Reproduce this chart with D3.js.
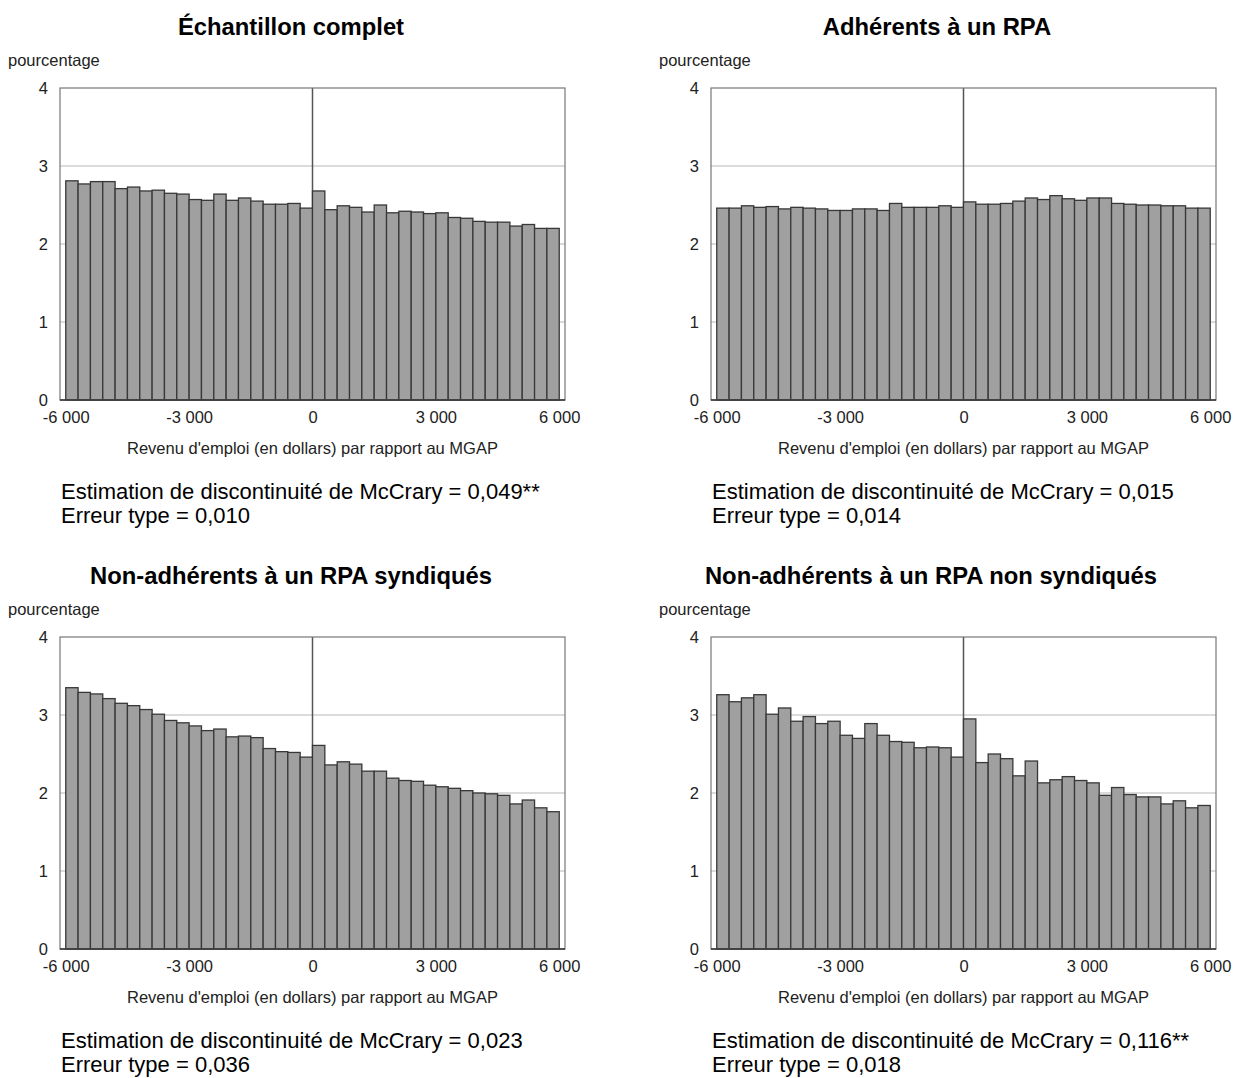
<!DOCTYPE html>
<html>
<head>
<meta charset="utf-8">
<script src="https://cdn.jsdelivr.net/npm/d3@7"></script>
<style>
  body { margin: 0; background: #fff; }
  text { font-family: "Liberation Sans", Arial, sans-serif; }
</style>
</head>
<body>
<div id="chart"></div>
<script>
// bins de 300 $ autour du MGAP
const binStarts = [-6000, -5700, -5400, -5100, -4800, -4500, -4200, -3900, -3600, -3300,
    -3000, -2700, -2400, -2100, -1800, -1500, -1200, -900, -600, -300,
    0, 300, 600, 900, 1200, 1500, 1800, 2100, 2400, 2700,
    3000, 3300, 3600, 3900, 4200, 4500, 4800, 5100, 5400, 5700];
const binWidth = 300;

const titles = ['Échantillon complet', 'Adhérents à un RPA',
    'Non-adhérents à un RPA syndiqués', 'Non-adhérents à un RPA non syndiqués'];

const complet = [2.81, 2.77, 2.80, 2.80, 2.71, 2.73, 2.68, 2.69, 2.65, 2.64,
    2.57, 2.56, 2.64, 2.56, 2.59, 2.55, 2.51, 2.51, 2.52, 2.46,
    2.68, 2.44, 2.49, 2.47, 2.41, 2.50, 2.40, 2.42, 2.41, 2.39,
    2.40, 2.34, 2.33, 2.29, 2.28, 2.28, 2.23, 2.25, 2.20, 2.20];
const adherents = [2.46, 2.46, 2.49, 2.47, 2.48, 2.45, 2.47, 2.46, 2.45, 2.43,
    2.43, 2.45, 2.45, 2.43, 2.52, 2.47, 2.47, 2.47, 2.49, 2.47,
    2.54, 2.51, 2.51, 2.52, 2.55, 2.59, 2.57, 2.62, 2.58, 2.56,
    2.59, 2.59, 2.52, 2.51, 2.50, 2.50, 2.49, 2.49, 2.46, 2.46];
const nonAdhSynd = [3.35, 3.29, 3.27, 3.21, 3.15, 3.12, 3.07, 3.01, 2.93, 2.90,
    2.86, 2.80, 2.82, 2.72, 2.73, 2.71, 2.57, 2.53, 2.52, 2.46,
    2.61, 2.36, 2.40, 2.37, 2.28, 2.28, 2.19, 2.16, 2.15, 2.10,
    2.08, 2.06, 2.03, 2.00, 1.99, 1.97, 1.86, 1.91, 1.81, 1.76];
const nonAdhNonSynd = [3.26, 3.17, 3.22, 3.26, 3.01, 3.09, 2.92, 2.98, 2.89, 2.92,
    2.74, 2.70, 2.89, 2.74, 2.66, 2.65, 2.58, 2.59, 2.58, 2.46,
    2.95, 2.39, 2.50, 2.44, 2.22, 2.41, 2.13, 2.17, 2.21, 2.16,
    2.13, 1.97, 2.07, 1.98, 1.95, 1.95, 1.86, 1.90, 1.81, 1.84];

const estimates = ['0,049**', '0,015', '0,023', '0,116**'];
const errors = ['0,010', '0,014', '0,036', '0,018'];

const xTicks = [-6000, -3000, 0, 3000, 6000];
const yTicks = [0, 1, 2, 3, 4];

const width = 1233;
const height = 1078;

const svg = d3.select('#chart')
    .append('svg')
    .attr('width', width)
    .attr('height', height);

const thousands = d => d3.format(',')(d).replace(/,/g, ' ').replace('−', '-');

// zone de tracé d'un panneau (panneau haut-gauche)
const plot_left = 60;
const plot_right = 565;
const plot_top = 88;
const plot_bottom = 400;
const small_font = 16.5;

const x_scale = d3.scaleLinear()
    .domain([-6140, 6140])
    .range([plot_left, plot_right]);

const y_scale = d3.scaleLinear()
    .domain([0, 4])
    .range([plot_bottom, plot_top]);

function drawPanel(g, title, titleX, values, est, err) {
    g.append('text')
        .attr('x', titleX)
        .attr('y', 35)
        .attr('text-anchor', 'middle')
        .attr('font-size', 23.8)
        .attr('font-weight', 'bold')
        .text(title);

    g.append('text')
        .attr('x', 8)
        .attr('y', 66)
        .attr('font-size', small_font)
        .attr('fill', '#222')
        .text('pourcentage');

    // grille horizontale
    g.selectAll('.grid')
        .data(yTicks.filter(d => d > 0 && d < 4))
        .join('line')
        .attr('x1', plot_left).attr('x2', plot_right)
        .attr('y1', d => y_scale(d)).attr('y2', d => y_scale(d))
        .attr('stroke', '#cfcfcf')
        .attr('stroke-width', 1.5);

    // ligne verticale au MGAP
    g.append('line')
        .attr('x1', x_scale(0)).attr('x2', x_scale(0))
        .attr('y1', plot_top).attr('y2', plot_bottom)
        .attr('stroke', '#555')
        .attr('stroke-width', 1.5);

    g.selectAll('.bar')
        .data(values)
        .join('rect')
        .attr('x', (d, i) => x_scale(binStarts[i]))
        .attr('width', (d, i) => x_scale(binStarts[i] + binWidth) - x_scale(binStarts[i]))
        .attr('y', d => y_scale(d))
        .attr('height', d => plot_bottom - y_scale(d))
        .attr('fill', '#a0a0a0')
        .attr('stroke', '#383838')
        .attr('stroke-width', 1.3);

    // cadre
    g.append('rect')
        .attr('x', plot_left).attr('y', plot_top)
        .attr('width', plot_right - plot_left)
        .attr('height', plot_bottom - plot_top)
        .attr('fill', 'none')
        .attr('stroke', '#777')
        .attr('stroke-width', 1.2);
    g.append('line')
        .attr('x1', plot_left).attr('x2', plot_right)
        .attr('y1', plot_bottom).attr('y2', plot_bottom)
        .attr('stroke', '#333')
        .attr('stroke-width', 1.5);

    const x_axis = d3.axisBottom(x_scale)
        .tickValues(xTicks)
        .tickSize(0)
        .tickPadding(11)
        .tickFormat(thousands);
    const y_axis = d3.axisLeft(y_scale)
        .tickValues(yTicks)
        .tickSize(0)
        .tickPadding(12)
        .tickFormat(d3.format('d'));

    const xg = g.append('g')
        .attr('transform', `translate(0,${plot_bottom})`)
        .call(x_axis);
    const yg = g.append('g')
        .attr('transform', `translate(${plot_left},0)`)
        .call(y_axis);
    [xg, yg].forEach(a => {
        a.select('.domain').remove();
        a.selectAll('text')
            .attr('font-size', small_font)
            .attr('fill', '#222')
            .style('font-family', '"Liberation Sans", Arial, sans-serif');
    });

    g.append('text')
        .attr('x', x_scale(0))
        .attr('y', 454)
        .attr('text-anchor', 'middle')
        .attr('font-size', small_font)
        .attr('fill', '#222')
        .text("Revenu d'emploi (en dollars) par rapport au MGAP");

    g.append('text')
        .attr('x', 61)
        .attr('y', 499)
        .attr('font-size', 22)
        .text('Estimation de discontinuité de McCrary = ' + est);
    g.append('text')
        .attr('x', 61)
        .attr('y', 523)
        .attr('font-size', 22)
        .text('Erreur type = ' + err);
}

const panels = [
    { dx: 0, dy: 0, tx: 291, values: complet },
    { dx: 651, dy: 0, tx: 286, values: adherents },
    { dx: 0, dy: 549, tx: 291, values: nonAdhSynd },
    { dx: 651, dy: 549, tx: 280, values: nonAdhNonSynd }
];

panels.forEach((p, i) => {
    const g = svg.append('g').attr('transform', `translate(${p.dx},${p.dy})`);
    drawPanel(g, titles[i], p.tx, p.values, estimates[i], errors[i]);
});
</script>
</body>
</html>
